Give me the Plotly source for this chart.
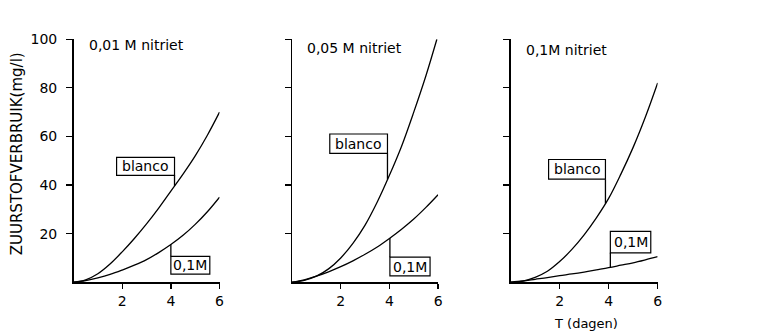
import numpy as np
import plotly.graph_objects as go

# ---- data ----
days = [0, 0.5, 1, 1.5, 2, 2.5, 3, 3.5, 4, 4.5, 5, 5.5, 6]
days_p2 = [0, 0.5, 1, 1.5, 2, 2.5, 3, 3.5, 4, 4.5, 5, 5.5, 5.95]

p1_blanco = [0, 1, 3.5, 7.5, 12.5, 18, 24, 30.5, 37.5, 44.5, 52, 60.5, 70]
p1_01M = [0, 0.7, 1.8, 3.2, 5, 7, 9.3, 12.2, 15.5, 19.3, 23.8, 29, 35]

p2_blanco = [0, 0.8, 2.5, 5.5, 10, 16, 23.5, 33, 44, 56, 70, 85, 100]
p2_01M = [0, 1, 2.5, 4.3, 6.4, 8.8, 11.5, 14.5, 18, 21.8, 26, 30.8, 36]

p3_blanco = [0, 0.5, 2, 4.5, 8.5, 13.5, 19.5, 26.5, 34.5, 44.5, 55.5, 68, 82]
p3_01M = [0, 0.5, 1.2, 1.9, 2.7, 3.4, 4.2, 5.1, 6, 7, 8, 9.2, 10.5]

titles = ["0,01 M nitriet", "0,05 M nitriet", "0,1M nitriet"]
x_ticks = [2, 4, 6]
y_ticks = [20, 40, 60, 80, 100]

# ---- layout config (pixel based) ----
W, H = 759, 332
x_px = [(74, 221), (294, 441), (514, 662)]
y0_px, y100_px = 281, 32

FONT = "DejaVu Sans"
fig = go.Figure()

panels = [
    (days, p1_blanco, days, p1_01M),
    (days_p2, p2_blanco, days, p2_01M),
    (days, p3_blanco, days, p3_01M),
]

# label boxes: (x0, x1, y0, y1) in data units
blanco_boxes = [(1.77, 4.15, 44, 51.4), (1.55, 3.92, 53, 61), (1.55, 3.87, 42.4, 50.5)]
m_boxes = [(4.0, 5.6, 3.3, 10.6), (4.02, 5.67, 2.6, 10.3), (4.07, 5.72, 12.1, 20.9)]
title_y = [97.5, 96.5, 95.5]

for i, (xb, yb, xm, ym) in enumerate(panels):
    k = "" if i == 0 else str(i + 1)
    xa, ya = "x" + k, "y" + k
    for xs, ys in ((xb, yb), (xm, ym)):
        fig.add_trace(go.Scatter(x=xs, y=ys, mode="lines", xaxis=xa, yaxis=ya,
                                 line=dict(color="black", width=1.3, shape="spline", smoothing=1.0),
                                 showlegend=False, hoverinfo="skip"))
    bx0, bx1, by0, by1 = blanco_boxes[i]
    fig.add_shape(type="rect", xref=xa, yref=ya, x0=bx0, x1=bx1, y0=by0, y1=by1,
                  line=dict(color="black", width=1.2), fillcolor="white")
    cy = float(np.interp(bx1, xb, yb))
    fig.add_shape(type="line", xref=xa, yref=ya, x0=bx1, x1=bx1, y0=by0, y1=cy,
                  line=dict(color="black", width=1.3))
    fig.add_annotation(x=(bx0 + bx1) / 2, y=(by0 + by1) / 2, xref=xa, yref=ya, text="blanco",
                       showarrow=False, font=dict(family=FONT, size=14, color="black"))
    mx0, mx1, my0, my1 = m_boxes[i]
    fig.add_shape(type="rect", xref=xa, yref=ya, x0=mx0, x1=mx1, y0=my0, y1=my1,
                  line=dict(color="black", width=1.2), fillcolor="white")
    cy = float(np.interp(mx0, xm, ym))
    ly = my1 if cy > my1 else my0
    fig.add_shape(type="line", xref=xa, yref=ya, x0=mx0, x1=mx0, y0=ly, y1=cy,
                  line=dict(color="black", width=1.3))
    fig.add_annotation(x=(mx0 + mx1) / 2, y=(my0 + my1) / 2, xref=xa, yref=ya, text="0,1M",
                       showarrow=False, font=dict(family=FONT, size=14, color="black"))
    fig.add_annotation(x=0.55, y=title_y[i], xref=xa, yref=ya, text=titles[i],
                       xanchor="left", yanchor="middle", showarrow=False,
                       font=dict(family=FONT, size=14, color="black"))

ydom = [(H - y0_px) / H, (H - y100_px) / H]
layout = dict(
    width=W, height=H, margin=dict(l=0, r=0, t=0, b=0),
    paper_bgcolor="white", plot_bgcolor="white",
    font=dict(family=FONT, size=14, color="black"),
)
for i in range(3):
    k = "" if i == 0 else str(i + 1)
    layout["xaxis" + k] = dict(
        domain=[x_px[i][0] / W, x_px[i][1] / W], range=[0, 6], anchor="y" + k,
        showgrid=False, zeroline=False, showline=True, linecolor="black", linewidth=1.5,
        ticks="outside", ticklen=5, tickwidth=1.3, tickcolor="black",
        tickvals=x_ticks, ticktext=[str(v) for v in x_ticks], ticklabelstandoff=0,
        tickfont=dict(family=FONT, size=14, color="black"), fixedrange=True,
    )
    layout["yaxis" + k] = dict(
        domain=ydom, range=[0, 100], anchor="x" + k,
        showgrid=False, zeroline=False, showline=True, linecolor="black", linewidth=1.5,
        ticks="outside", ticklen=6, tickwidth=1.3, tickcolor="black",
        tickvals=y_ticks, ticktext=[str(v) for v in y_ticks],
        showticklabels=(i == 0), ticklabelstandoff=6,
        tickfont=dict(family=FONT, size=14, color="black"), fixedrange=True,
    )
fig.update_layout(**layout)

fig.add_annotation(x=18 / W, y=1 - 149 / H, xref="paper", yref="paper",
                   xanchor="center", yanchor="middle",
                   text="ZUURSTOFVERBRUIK(mg/l)", textangle=-90, showarrow=False,
                   font=dict(family=FONT, size=15, color="black"))
fig.add_annotation(x=590 / W, y=1 - 323 / H, xref="paper", yref="paper",
                   xanchor="center", yanchor="middle",
                   text="T (dagen)", showarrow=False,
                   font=dict(family=FONT, size=13, color="black"))

fig.write_html("out.html", config={"displayModeBar": False, "staticPlot": True})

# remove default page margin so the figure sits at the window origin
with open("out.html", "r", encoding="utf-8") as f:
    html = f.read()
html = html.replace("<head>", "<head><style>html,body{margin:0;padding:0;overflow:hidden;}</style>", 1)
with open("out.html", "w", encoding="utf-8") as f:
    f.write(html)
